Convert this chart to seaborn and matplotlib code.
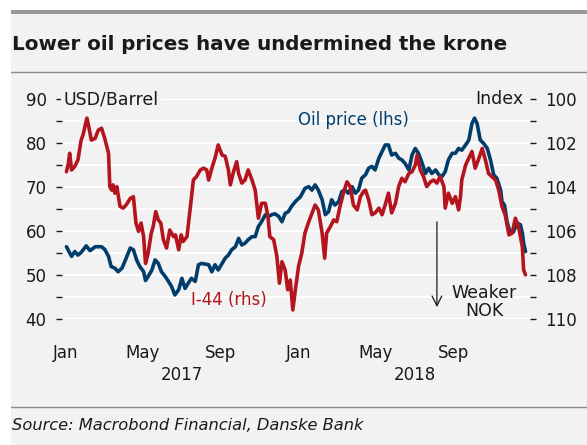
import pandas as pd
import matplotlib
matplotlib.use("Agg")
import matplotlib.pyplot as plt
import matplotlib.dates as mdates
import matplotlib.transforms as mtransforms
from matplotlib.lines import Line2D
from matplotlib.patches import Rectangle
import seaborn as sns

# Brent oil price, USD per barrel (left axis)
oil_dates = [
    "2017-01-02", "2017-01-10", "2017-01-15", "2017-01-20", "2017-01-25", "2017-02-02",
    "2017-02-08", "2017-02-16", "2017-02-26", "2017-03-03", "2017-03-09", "2017-03-13",
    "2017-03-19", "2017-03-24", "2017-03-30", "2017-04-04", "2017-04-12", "2017-04-17",
    "2017-04-22", "2017-04-27", "2017-05-03", "2017-05-06", "2017-05-10", "2017-05-16",
    "2017-05-21", "2017-05-26", "2017-05-31", "2017-06-06", "2017-06-11", "2017-06-16",
    "2017-06-21", "2017-06-27", "2017-07-02", "2017-07-07", "2017-07-12", "2017-07-17",
    "2017-07-23", "2017-07-28", "2017-08-02", "2017-08-13", "2017-08-18", "2017-08-23",
    "2017-08-28", "2017-09-03", "2017-09-08", "2017-09-13", "2017-09-18", "2017-09-24",
    "2017-09-29", "2017-10-04", "2017-10-09", "2017-10-14", "2017-10-20", "2017-10-25",
    "2017-10-30", "2017-11-04", "2017-11-10", "2017-11-15", "2017-11-20", "2017-11-25",
    "2017-12-01", "2017-12-06", "2017-12-11", "2017-12-16", "2017-12-21", "2017-12-27",
    "2018-01-04", "2018-01-11", "2018-01-17", "2018-01-22", "2018-01-27", "2018-02-01",
    "2018-02-07", "2018-02-12", "2018-02-17", "2018-02-22", "2018-02-27", "2018-03-05",
    "2018-03-10", "2018-03-15", "2018-03-20", "2018-03-26", "2018-03-31", "2018-04-05",
    "2018-04-10", "2018-04-16", "2018-04-21", "2018-04-26", "2018-05-01", "2018-05-07",
    "2018-05-12", "2018-05-17", "2018-05-22", "2018-05-27", "2018-06-02", "2018-06-07",
    "2018-06-12", "2018-06-17", "2018-06-23", "2018-06-28", "2018-07-03", "2018-07-08",
    "2018-07-14", "2018-07-19", "2018-07-24", "2018-07-29", "2018-08-04", "2018-08-09",
    "2018-08-14", "2018-08-19", "2018-08-24", "2018-08-30", "2018-09-04", "2018-09-09",
    "2018-09-14", "2018-09-20", "2018-09-25", "2018-09-30", "2018-10-04", "2018-10-08",
    "2018-10-13", "2018-10-18", "2018-10-24", "2018-10-29", "2018-11-03", "2018-11-08",
    "2018-11-14", "2018-11-16", "2018-11-20", "2018-11-24", "2018-11-29", "2018-12-04",
    "2018-12-10", "2018-12-15", "2018-12-18", "2018-12-20", "2018-12-23",
]
oil_usd = [
    56.4, 54.2, 55.3, 54.5, 55.1, 56.6,
    55.5, 56.4, 56.4, 55.8, 54.2, 51.9,
    51.5, 50.7, 51.5, 53.2, 56.1, 55.7,
    53.4, 51.9, 50.7, 48.7, 49.6, 51.1,
    53.4, 52.6, 50.7, 49.6, 48.5, 47.3,
    45.4, 46.6, 49.2, 46.9, 48.1, 49.2,
    48.5, 52.3, 52.6, 52.3, 50.7, 52.3,
    51.1, 52.6, 53.8, 54.5, 55.7, 56.4,
    58.3, 56.8, 57.2, 58.0, 58.7, 58.7,
    61.0, 62.1, 63.7, 63.3, 63.7, 63.9,
    63.3, 62.1, 64.0, 64.4, 65.6, 66.7,
    67.8, 69.7, 70.1, 69.3, 70.5, 69.3,
    67.1, 63.7, 64.4, 67.1, 65.9, 66.7,
    69.0, 69.3, 68.6, 70.1, 68.6, 69.3,
    72.0, 72.8, 74.3, 74.7, 73.9, 76.6,
    78.1, 79.6, 79.6, 77.3, 77.7, 76.6,
    76.2, 75.4, 73.9, 77.3, 78.8, 77.7,
    75.4, 73.1, 74.3, 73.1, 73.9, 72.8,
    72.4, 73.5, 76.2, 77.7, 77.7, 78.8,
    78.4, 79.6, 80.7, 84.5, 85.7, 84.5,
    80.7, 80.0, 78.8, 76.2, 72.8, 72.0,
    69.3, 66.7, 65.9, 62.1, 59.5, 59.8,
    61.8, 61.4, 59.5, 57.2, 55.3,
]

# I-44 krone index (right axis, inverted: higher = weaker NOK)
i44_dates = [
    "2017-01-02", "2017-01-05", "2017-01-07", "2017-01-10", "2017-01-15", "2017-01-20",
    "2017-01-25", "2017-01-28", "2017-02-03", "2017-02-05", "2017-02-10", "2017-02-16",
    "2017-02-21", "2017-02-26", "2017-03-03", "2017-03-09", "2017-03-11", "2017-03-14",
    "2017-03-16", "2017-03-19", "2017-03-22", "2017-03-27", "2017-04-01", "2017-04-06",
    "2017-04-12", "2017-04-17", "2017-04-21", "2017-04-25", "2017-04-29", "2017-05-03",
    "2017-05-06", "2017-05-10", "2017-05-15", "2017-05-18", "2017-05-22", "2017-05-26",
    "2017-05-30", "2017-06-03", "2017-06-08", "2017-06-13", "2017-06-19", "2017-06-22",
    "2017-06-27", "2017-07-01", "2017-07-04", "2017-07-10", "2017-07-13", "2017-07-16",
    "2017-07-20", "2017-07-25", "2017-07-31", "2017-08-05", "2017-08-10", "2017-08-13",
    "2017-08-18", "2017-08-23", "2017-08-28", "2017-09-03", "2017-09-08", "2017-09-13",
    "2017-09-16", "2017-09-21", "2017-09-26", "2017-09-29", "2017-10-04", "2017-10-09",
    "2017-10-14", "2017-10-20", "2017-10-25", "2017-10-30", "2017-11-04", "2017-11-10",
    "2017-11-14", "2017-11-17", "2017-11-23", "2017-11-28", "2017-12-02", "2017-12-06",
    "2017-12-11", "2017-12-15", "2017-12-19", "2017-12-23", "2017-12-27", "2018-01-01",
    "2018-01-06", "2018-01-11", "2018-01-17", "2018-01-22", "2018-01-27", "2018-02-01",
    "2018-02-07", "2018-02-11", "2018-02-14", "2018-02-20", "2018-02-25", "2018-03-02",
    "2018-03-07", "2018-03-13", "2018-03-18", "2018-03-23", "2018-03-28", "2018-04-03",
    "2018-04-08", "2018-04-13", "2018-04-16", "2018-04-21", "2018-04-26", "2018-05-01",
    "2018-05-07", "2018-05-12", "2018-05-17", "2018-05-22", "2018-05-27", "2018-06-02",
    "2018-06-07", "2018-06-12", "2018-06-17", "2018-06-23", "2018-06-28", "2018-07-03",
    "2018-07-06", "2018-07-11", "2018-07-16", "2018-07-21", "2018-07-27", "2018-08-01",
    "2018-08-06", "2018-08-11", "2018-08-17", "2018-08-19", "2018-08-24", "2018-08-30",
    "2018-09-04", "2018-09-09", "2018-09-12", "2018-09-14", "2018-09-20", "2018-09-25",
    "2018-09-30", "2018-10-05", "2018-10-11", "2018-10-16", "2018-10-21", "2018-10-26",
    "2018-10-31", "2018-11-06", "2018-11-11", "2018-11-16", "2018-11-21", "2018-11-27",
    "2018-12-02", "2018-12-07", "2018-12-12", "2018-12-15", "2018-12-18", "2018-12-20",
    "2018-12-23",
]
i44_index = [
    103.30, 102.92, 102.46, 103.22, 103.06, 102.76,
    101.86, 101.62, 100.86, 101.10, 101.86, 101.78,
    101.40, 101.32, 101.78, 102.46, 103.98, 104.14,
    103.90, 104.28, 103.98, 104.88, 104.96, 104.80,
    104.52, 104.44, 105.64, 106.02, 105.64, 106.26,
    107.48, 107.02, 106.10, 105.80, 105.12, 105.50,
    105.64, 106.40, 106.78, 105.96, 106.26, 106.18,
    106.86, 106.18, 106.48, 106.26, 105.50, 104.74,
    103.68, 103.52, 103.22, 103.14, 103.22, 103.68,
    103.14, 102.68, 102.08, 102.54, 102.60, 103.22,
    103.90, 103.30, 102.84, 103.38, 103.82, 103.68,
    103.22, 103.68, 104.14, 105.42, 104.74, 104.74,
    105.34, 106.26, 106.40, 107.16, 108.38, 107.40,
    107.78, 108.68, 108.24, 109.60, 108.68, 107.62,
    107.02, 106.10, 105.58, 105.20, 104.82, 105.04,
    106.10, 107.24, 106.10, 105.80, 105.50, 105.58,
    104.88, 104.20, 103.76, 103.98, 104.82, 105.04,
    104.44, 104.20, 104.14, 104.58, 105.26, 105.18,
    104.96, 105.26, 104.80, 104.28, 105.18, 104.74,
    103.98, 103.60, 103.76, 103.38, 103.30, 103.00,
    102.54, 103.22, 103.52, 103.98, 103.76, 103.68,
    103.82, 103.52, 103.98, 104.96, 104.28, 104.74,
    104.44, 105.04, 104.44, 103.68, 103.00, 102.68,
    102.38, 103.14, 102.68, 102.24, 102.76, 103.38,
    103.52, 103.68, 104.14, 104.88, 105.26, 106.18,
    106.10, 105.42, 105.80, 106.26, 106.72, 107.78,
    108.00,
]

left_ticks = [40, 50, 60, 70, 80, 90]
right_ticks = [100, 102, 104, 106, 108, 110]
year_labels = ["2017", "2018"]

BLUE = "#003d6b"
RED = "#b4141e"
BG = "#f2f2f2"
INK = "#1a1a1a"

sns.set_style("white")
plt.rcParams["font.family"] = ["DejaVu Sans"]

W, H = 587, 445
fig = plt.figure(figsize=(W / 100, H / 100), dpi=100)
fig.patch.set_facecolor("white")

# panel background, header bar and separator rules
fig.add_artist(Rectangle((11 / W, 0), 1 - 11 / W, 1 - 9.5 / H,
                         transform=fig.transFigure, facecolor=BG, edgecolor="none", zorder=-10))
fig.add_artist(Rectangle((11 / W, 1 - 14 / H), 1 - 11 / W, 4.5 / H,
                         transform=fig.transFigure, facecolor="#979797", edgecolor="none", zorder=-9))
for ypix in (72, 407):
    fig.add_artist(Line2D([11 / W, 1], [1 - ypix / H] * 2, transform=fig.transFigure,
                          color="#8a8a8a", lw=1.0))

fig.text(12 / W, 1 - 44 / H, "Lower oil prices have undermined the krone",
         fontsize=14.3, fontweight="bold", color=INK, ha="left", va="center")
fig.text(12 / W, 1 - 426 / H, "Source: Macrobond Financial, Danske Bank",
         fontsize=11.7, style="italic", color=INK, ha="left", va="center")

ax = fig.add_axes([62 / W, 1 - 318.7 / H, 468 / W, 219.4 / H])
ax.patch.set_visible(False)
ax2 = ax.twinx()

oil = pd.DataFrame({"date": pd.to_datetime(oil_dates), "usd": oil_usd})
i44 = pd.DataFrame({"date": pd.to_datetime(i44_dates), "index": i44_index})

sns.lineplot(data=oil, x="date", y="usd", ax=ax, color=BLUE, lw=2.6, zorder=3)
sns.lineplot(data=i44, x="date", y="index", ax=ax2, color=RED, lw=2.6, zorder=3)

for a in (ax, ax2):
    a.set_xlabel("")
    a.set_ylabel("")
    for s in a.spines.values():
        s.set_visible(False)

ax.set_xlim(pd.Timestamp("2016-12-26"), pd.Timestamp("2018-12-30"))
ax.set_ylim(40, 90)
ax2.set_ylim(110, 100)

ax.set_yticks(left_ticks)
ax.set_yticks([45, 55, 65, 75, 85], minor=True)
ax2.set_yticks(right_ticks)
ax2.set_yticks([101, 103, 105, 107, 109], minor=True)
ax.yaxis.grid(True, which="both", color="white", lw=1.5)
ax.set_axisbelow(True)

for a in (ax, ax2):
    a.tick_params(axis="y", which="both", direction="out", length=4, width=1.0,
                  color=INK, pad=7, labelsize=12, labelcolor=INK)

# month ticks: long marks at January, short dots at May and September
ax.spines["bottom"].set_position(("outward", 9.5))
ax.xaxis.set_major_locator(mdates.MonthLocator(bymonth=[1]))
ax.xaxis.set_minor_locator(mdates.MonthLocator(bymonth=[5, 9]))
ax.xaxis.set_major_formatter(mdates.DateFormatter("%b"))
ax.xaxis.set_minor_formatter(mdates.DateFormatter("%b"))
ax.tick_params(axis="x", which="major", length=3.6, width=1.0, color=INK,
               pad=5, labelsize=12, labelcolor=INK)
ax.tick_params(axis="x", which="minor", length=1.2, width=1.0, color=INK,
               pad=7.4, labelsize=12, labelcolor=INK)

blend = mtransforms.blended_transform_factory(ax.transData, ax.transAxes)
for yr in year_labels:
    ax.text(pd.Timestamp(f"{yr}-07-02"), -0.257, yr, transform=blend,
            ha="center", va="center", fontsize=12, color=INK)

# unit labels sitting on the top gridline
ax.text(0.003, 1.0, "USD/Barrel", transform=ax.transAxes, ha="left", va="center",
        fontsize=12.5, color=INK, zorder=4,
        bbox=dict(boxstyle="square,pad=0.15", facecolor=BG, edgecolor="none"))
ax.text(0.985, 1.0, "Index", transform=ax.transAxes, ha="right", va="center",
        fontsize=12.5, color=INK, zorder=4,
        bbox=dict(boxstyle="square,pad=0.15", facecolor=BG, edgecolor="none"))

# series labels and direction note
ax.text(pd.Timestamp("2018-03-28"), 85.3, "Oil price (lhs)", ha="center", va="center",
        fontsize=12, color=BLUE)
ax.text(pd.Timestamp("2017-09-14"), 44.3, "I-44 (rhs)", ha="center", va="center",
        fontsize=12, color=RED)
ax.text(pd.Timestamp("2018-10-19"), 43.8, "Weaker\nNOK", ha="center", va="center",
        fontsize=12.5, color=INK, linespacing=1.05)
ax.annotate("", xy=(pd.Timestamp("2018-08-06"), 42.0),
            xytext=(pd.Timestamp("2018-08-06"), 62.7),
            arrowprops=dict(arrowstyle="->,head_length=0.7,head_width=0.35",
                            color=INK, lw=0.9))

fig.savefig("out.png", dpi=100, facecolor=fig.get_facecolor())
